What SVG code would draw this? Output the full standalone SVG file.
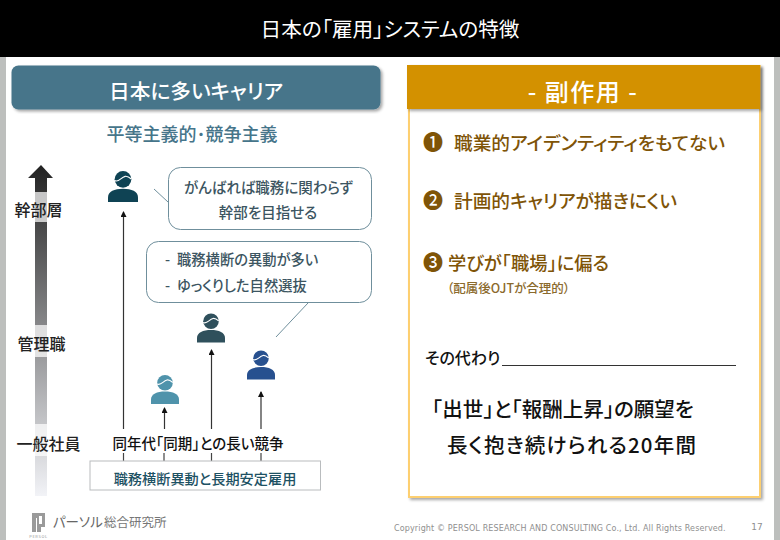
<svg xmlns="http://www.w3.org/2000/svg" width="780" height="540" viewBox="0 0 780 540">
<style>
text{font-family:"Noto Sans CJK JP","Noto Sans",sans-serif;font-feature-settings:"palt";font-weight:500}
.m{text-anchor:middle}
.side{font-size:16px;fill:#222;text-anchor:middle}
.call{font-size:14.3px;fill:#3c5561}
.call2{font-size:14.500px;fill:#3c5561;text-anchor:middle}
.item{font-size:18.700px;fill:#7f5407}
.num{font-size:20px;fill:#7f5407}
.big{font-size:20.500px;fill:#111}
.bub{fill:#fff;stroke:#6f8f9c;stroke-width:1}
.conn{stroke:#444;stroke-width:1.2;fill:none}
.ah{stroke:#333;stroke-width:1.2;fill:none;marker-end:url(#tip)}
.lat{font-weight:400;font-family:"DejaVu Sans",sans-serif;fill:#8f8f8f}
</style>
<defs>
<linearGradient id="g" x1="0" y1="0" x2="0" y2="1"><stop offset="0" stop-color="#222"/><stop offset="1" stop-color="#f2f3f7"/></linearGradient>
<marker id="tip" markerWidth="6" markerHeight="6" refX="5" refY="3" orient="auto" markerUnits="userSpaceOnUse"><path d="M0,0L6,3L0,6Z" fill="#111"/></marker>
<filter id="sh" x="-5%" y="-5%" width="110%" height="115%"><feDropShadow dx="2" dy="2" stdDeviation="1.5" flood-color="#000" flood-opacity=".35"/></filter>
<symbol id="person" viewBox="0 0 28 29" overflow="visible"><circle cx="14" cy="7.800" r="7.800"/><path d="M0,29V24.500C0,19 6,16.500 14,16.500S28,19 28,24.500V29Z"/><path d="M6.200,9C10,11 12,6 16,5C18,4.500 20,6 21.800,7.500" fill="none" stroke="#fff" stroke-width="1.100"/></symbol>
</defs>
<rect width="780" height="540" fill="#fff"/>
<rect x="0" y="57" width="6" height="483" fill="#bdbfbd"/>
<rect x="774" y="57" width="6" height="483" fill="#bdbfbd"/>
<rect width="780" height="57" fill="#000"/>
<text id="title" x="390" y="37" class="m" font-size="20.600" fill="#fff" style="font-weight:400">日本の「雇用」システムの特徴</text>

<g id="node-career-header"><rect x="11.500" y="65.500" width="369" height="44" rx="7" fill="#46758a" filter="url(#sh)"/><text x="196" y="99" class="m" font-size="20.700" fill="#fff">日本に多いキャリア</text></g>
<text id="subtitle" x="192" y="141" class="m" font-size="18" fill="#46758a">平等主義的･競争主義</text>

<g id="node-ladder">
<path d="M41,165L53,178H47V496H35V178H28Z" fill="url(#g)"/>
<rect x="34" y="192" width="14" height="30" fill="#fff" opacity=".72"/>
<rect x="34" y="325" width="14" height="32" fill="#fff" opacity=".72"/>
<rect x="34" y="424" width="14" height="32" fill="#fff" opacity=".72"/>
<text x="38.500" y="216" class="side">幹部層</text>
<text x="41.500" y="350" class="side">管理職</text>
<text x="48.500" y="450" class="side">一般社員</text>
</g>

<g id="connectors">
<path class="ah" d="M123.500,429V212"/>
<path class="ah" d="M164.500,429V408"/>
<path class="ah" d="M211.500,429V350"/>
<path class="ah" d="M261,429V392"/>
<path class="conn" d="M123.500,453V461M164,453V461M211.500,453V461M261,453V461"/>
<path d="M154,189L168,202" fill="none" stroke="#6f8f9c"/>
<path d="M308,303L276,337" fill="none" stroke="#6f8f9c"/>
</g>

<g id="node-person-1"><use href="#person" x="108" y="170" width="30" height="33" fill="#0f4354"/></g>
<g id="node-person-2"><use href="#person" x="197" y="313" width="28" height="30" fill="#2f505c"/></g>
<g id="node-person-3"><use href="#person" x="151" y="374" width="28" height="31" fill="#4f93ab"/></g>
<g id="node-person-4"><use href="#person" x="247" y="350" width="28" height="30" fill="#27508f"/></g>

<g id="node-bubble-1"><rect class="bub" x="168.500" y="167.500" width="203" height="62" rx="12"/>
<text x="268.500" y="193" class="call2">がんばれば職務に関わらず</text><text x="268" y="218" class="call2">幹部を目指せる</text></g>
<g id="node-bubble-2"><rect class="bub" x="146.500" y="241.500" width="225" height="61" rx="12"/>
<text x="165" y="265" class="call">-</text><text x="177" y="265" class="call">職務横断の異動が多い</text><text x="165" y="291" class="call">-</text><text x="177" y="291" class="call">ゆっくりした自然選抜</text></g>

<text id="label-compete" x="198" y="449" class="m" font-size="14.500" fill="#111">同年代｢同期｣との長い競争</text>
<g id="node-foundation"><rect x="90" y="461" width="230.500" height="29" fill="#fff" stroke="#b9bcbe" stroke-width="1"/><text x="205" y="484" class="m" font-size="14.200" fill="#1d5163">職務横断異動と長期安定雇用</text></g>

<g id="node-logo"><path d="M32,513H45V527H41V532H37V518H36V532H32Z" fill="#9a9a9a"/><path d="M39,516H42V524H39Z" fill="#fff"/>
<text x="38.500" y="538" class="m" font-size="4" letter-spacing=".6" fill="#9a9a9a" font-family="Liberation Sans" style="font-weight:400">PERSOL</text>
<text x="53" y="527" font-size="13.500" fill="#666" style="font-weight:400">パーソル</text><text x="104" y="527" font-size="12.500" fill="#777" style="font-weight:400">総合研究所</text></g>

<g id="node-effects">
<rect x="409" y="66" width="351" height="431" fill="#fff" stroke="#fdcf6f" stroke-width="2" filter="url(#sh)"/>
<rect x="407" y="65" width="353" height="44" fill="#d39100" filter="url(#sh)"/>
<text x="583" y="101" class="m" font-size="24" fill="#fff" letter-spacing="1.500">- 副作用 -</text>
<text x="423" y="150" class="num">❶</text>
<text x="454" y="150" class="item">職業的アイデンティティをもてない</text>
<text x="423" y="208" class="num">❷</text>
<text x="454" y="208" class="item">計画的キャリアが描きにくい</text>
<text x="423" y="270" class="num">❸</text>
<text x="448" y="270" class="item" style="font-size:18.300px">学びが｢職場｣に偏る</text>
<text x="447" y="293" font-size="12.500" fill="#8b6a2c">（配属後OJTが合理的）</text>
<text x="425" y="364" font-size="16" fill="#111">その代わり</text>
<path d="M502,365.500H736" stroke="#333" stroke-width="1"/>
<text x="432" y="417" class="big">｢出世｣と｢報酬上昇｣の願望を</text>
<text x="447" y="453" class="big" letter-spacing="1.200">長く抱き続けられる20年間</text>
</g>
<text id="copyright" class="lat" x="394" y="531" font-size="8" letter-spacing=".14">Copyright © PERSOL  RESEARCH AND CONSULTING Co., Ltd. All Rights Reserved.</text>
<text id="page" class="lat m" x="757" y="530" font-size="9">17</text>
</svg>
